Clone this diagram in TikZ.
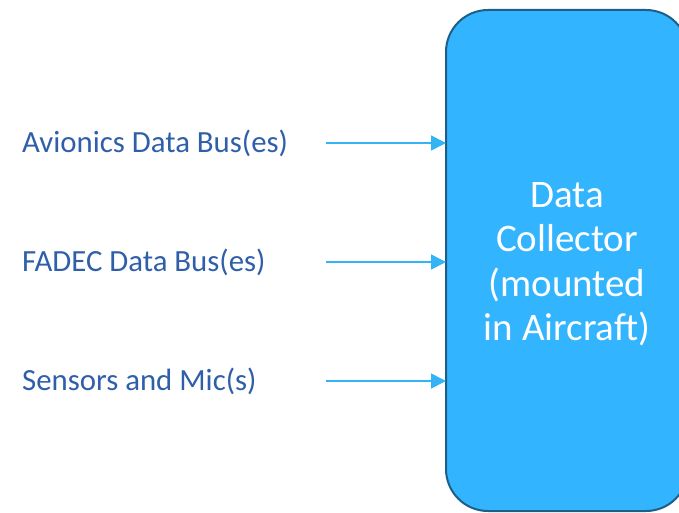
\documentclass[tikz,border=0pt]{standalone}
\usepackage{fontspec}
\setmainfont{Carlito}
\usetikzlibrary{arrows.meta}
\definecolor{boxfill}{HTML}{33B4FF}
\definecolor{boxline}{HTML}{1E5F88}
\definecolor{arrowcol}{HTML}{33B4F5}
\definecolor{labelcol}{HTML}{2E5FA8}
\tikzset{
  x=1pt, y=-1pt,
  inlabel/.style={anchor=west, inner sep=0pt, text=labelcol, font=\fontsize{30.8}{36}\selectfont},
  feed/.style={draw=arrowcol, line width=1.6pt, -{Triangle[length=15pt,width=15pt]}},
  collector/.style={draw=boxline, fill=boxfill, line width=2pt, rounded corners=42pt},
}
\begin{document}
\begin{tikzpicture}
  \useasboundingbox (0,0) rectangle (679,513);
  \begin{scope}
    \clip (0,0) rectangle (679,513);
    \draw[collector] (446,10) rectangle (688,511);
  \end{scope}
  \node[text=white, align=center, font=\fontsize{39}{44.5}\selectfont] (dc) at (567,264) {Data\\Collector\\(mounted\\in Aircraft)};
  \coordinate (p1) at (446,143);
  \coordinate (p2) at (446,262);
  \coordinate (p3) at (446,381);
  \coordinate (s1) at (326,143);
  \coordinate (s2) at (326,262);
  \coordinate (s3) at (326,381);
  \node[inlabel] (l1) at (22,143) {Avionics Data Bus(es)};
  \node[inlabel] (l2) at (22,262) {FADEC Data Bus(es)};
  \node[inlabel] (l3) at (22,381) {Sensors and Mic(s)};
  \draw[feed] (s1) -- (p1);
  \draw[feed] (s2) -- (p2);
  \draw[feed] (s3) -- (p3);
\end{tikzpicture}
\end{document}
